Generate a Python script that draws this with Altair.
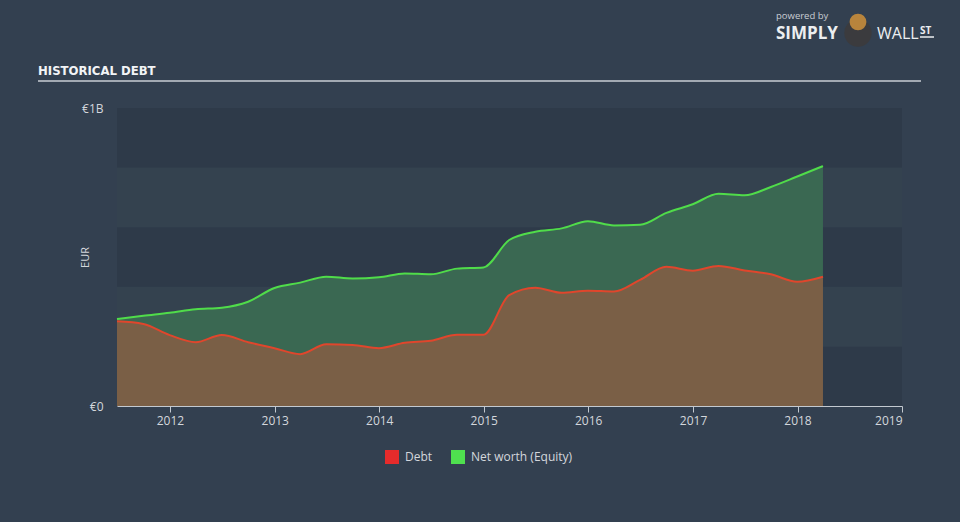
import altair as alt
import pandas as pd

# ---- data (EUR millions), quarterly ----
dates = [
    "2011-06-30", "2011-09-30", "2011-12-31", "2012-03-31", "2012-06-30", "2012-09-30",
    "2012-12-31", "2013-03-31", "2013-06-30", "2013-09-30", "2013-12-31", "2014-03-31",
    "2014-06-30", "2014-09-30", "2014-12-31", "2015-03-31", "2015-06-30", "2015-09-30",
    "2015-12-31", "2016-03-31", "2016-06-30", "2016-09-30", "2016-12-31", "2017-03-31",
    "2017-06-30", "2017-09-30", "2017-12-31", "2018-03-31",
]
debt = [284, 275, 238, 214, 238, 214, 194, 174, 207, 205, 194, 212, 219, 239,
        239, 372, 397, 380, 387, 384, 423, 467, 454, 470, 455, 442, 417, 434]
equity = [292, 303, 313, 325, 330, 350, 396, 414, 434, 428, 432, 445, 442, 461,
          465, 557, 585, 596, 620, 606, 608, 648, 677, 712, 707, 735, 770, 805]

series_names = ["Debt", "Net worth (Equity)"]
series_colors = ["#e62b2b", "#4fe04f"]

band_lo = [0, 200, 400, 600, 800]
band_hi = [200, 400, 600, 800, 1000]
band_fill = ["#2e3a49", "#34424f", "#2e3a49", "#34424f", "#2e3a49"]

x_domain = ["2011-06-30", "2019-01-01"]
year_ticks = ["2012-01-01", "2013-01-01", "2014-01-01", "2015-01-01",
              "2016-01-01", "2017-01-01", "2018-01-01", "2019-01-01"]

FONT = "Open Sans"
LABEL = "#d3d7dc"

df = pd.DataFrame({"date": dates, "debt": debt, "equity": equity})
bands = pd.DataFrame({"lo": band_lo, "hi": band_hi, "fill": band_fill})

xscale = alt.Scale(domain=x_domain)
yscale = alt.Scale(domain=[0, 1000])

x_enc = alt.X(
    "date:T", scale=xscale, title=None,
    axis=alt.Axis(
        values=year_ticks, format="%Y", labelFontSize=12, labelColor=LABEL,
        labelFont=FONT, domainColor="#c3c9d0", tickColor="#c3c9d0", tickSize=6,
        labelPadding=3, grid=False,
    ),
)

band_layer = alt.Chart(bands).mark_rect().encode(
    y=alt.Y("lo:Q", scale=yscale, title="EUR",
            axis=alt.Axis(values=[0, 1000],
                          labelExpr="datum.value == 0 ? '€0' : '€1B'",
                          labelFontSize=12, labelColor=LABEL, labelFont=FONT,
                          labelPadding=14, ticks=False, domain=False, grid=False,
                          titleColor=LABEL, titleFont=FONT, titleFontSize=11,
                          titleFontWeight="normal", titleX=-27, titleY=149)),
    y2="hi:Q",
    color=alt.Color("fill:N", scale=None),
)

base = alt.Chart(df)

equity_area = base.mark_area(interpolate="monotone", color="#3a6852").encode(
    x=x_enc, y=alt.Y("equity:Q", scale=yscale)
)
debt_area = base.mark_area(interpolate="monotone", color="#7a5f46").encode(
    x=x_enc, y=alt.Y("debt:Q", scale=yscale)
)
equity_line = base.mark_line(interpolate="monotone", color="#50dc4a", strokeWidth=2).encode(
    x=x_enc, y=alt.Y("equity:Q", scale=yscale)
)
debt_line = base.mark_line(interpolate="monotone", color="#e0462c", strokeWidth=2).encode(
    x=x_enc, y=alt.Y("debt:Q", scale=yscale)
)

legend_layer = base.transform_fold(["debt", "equity"], as_=["key", "value"]).transform_calculate(
    series="datum.key == 'debt' ? 'Debt' : 'Net worth (Equity)'"
).mark_point(filled=True, shape="square", opacity=0).encode(
    x=x_enc,
    y=alt.Y("value:Q", scale=yscale),
    color=alt.Color(
        "series:N",
        scale=alt.Scale(domain=series_names, range=series_colors),
        legend=alt.Legend(
            title=None, orient="none", legendX=268, legendY=342, direction="horizontal",
            symbolType="square", symbolSize=196, symbolOpacity=1, symbolStrokeWidth=0,
            labelFontSize=12, labelColor=LABEL, labelFont=FONT, columnPadding=18,
            labelOffset=6,
        ),
    ),
)

# ---- header: title, rule, logo ----
TITLE_FONT = "'DejaVu Sans Condensed', 'Liberation Sans Narrow', sans-serif"
title_text = alt.Chart(pd.DataFrame({"t": ["HISTORICAL DEBT"]})).mark_text(
    align="left", baseline="alphabetic", font=TITLE_FONT, fontWeight="bold",
    fontSize=13, color="#f2f4f6"
).encode(text="t:N", x=alt.value(-79), y=alt.value(-33))

title_rule = alt.Chart(pd.DataFrame({"a": [0]})).mark_rule(
    color="#a3aab3", strokeWidth=2
).encode(x=alt.value(-79), x2=alt.value(804), y=alt.value(-27))

logo_small = alt.Chart(pd.DataFrame({"t": ["powered by"]})).mark_text(
    align="left", baseline="alphabetic", font=FONT, fontSize=9.5, color="#c9cdd3"
).encode(text="t:N", x=alt.value(659), y=alt.value(-89))

logo_simply = alt.Chart(pd.DataFrame({"t": ["SIMPLY"]})).mark_text(
    align="left", baseline="alphabetic", font=FONT, fontWeight="bold", fontSize=17,
    color="#eceef0"
).encode(text="t:N", x=alt.value(659), y=alt.value(-69))

logo_wall = alt.Chart(pd.DataFrame({"t": ["WALL"]})).mark_text(
    align="left", baseline="alphabetic", font=FONT, fontSize=16, color="#eceef0"
).encode(text="t:N", x=alt.value(760), y=alt.value(-69))

logo_st = alt.Chart(pd.DataFrame({"t": ["ST"]})).mark_text(
    align="left", baseline="alphabetic", font=FONT, fontWeight="bold", fontSize=10,
    color="#eceef0"
).encode(text="t:N", x=alt.value(803), y=alt.value(-74))

logo_st_rule = alt.Chart(pd.DataFrame({"a": [0]})).mark_rule(
    color="#eceef0", strokeWidth=1.5
).encode(x=alt.value(803), x2=alt.value(817), y=alt.value(-71))

logo_body = alt.Chart(pd.DataFrame({"a": [0]})).mark_circle(
    size=750, color="#3b3b3e", opacity=1
).encode(x=alt.value(741), y=alt.value(-75))

logo_head = alt.Chart(pd.DataFrame({"a": [0]})).mark_circle(
    size=280, color="#b8843c", opacity=1
).encode(x=alt.value(741), y=alt.value(-86))

chart = alt.layer(
    band_layer, equity_area, debt_area, equity_line, debt_line, legend_layer,
    title_text, title_rule, logo_small, logo_simply, logo_wall, logo_st, logo_st_rule,
    logo_body, logo_head,
).properties(
    width=785, height=298,
    autosize=alt.AutoSizeParams(type="none"),
    padding={"left": 117, "top": 108, "right": 58, "bottom": 116},
    background="#334050",
).configure_view(stroke=None)

chart.save("out.html", embed_options={"renderer": "svg", "actions": False})
